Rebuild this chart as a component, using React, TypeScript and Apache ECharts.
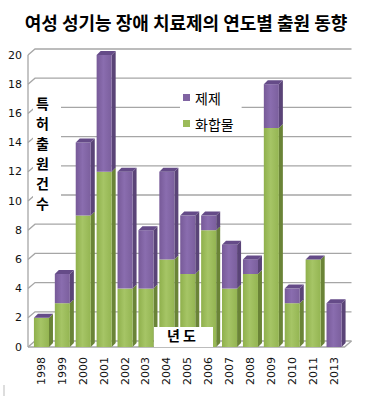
import React, { useEffect, useRef } from "react";
import * as echarts from "echarts";

const years = ["1998", "1999", "2000", "2001", "2002", "2003", "2004", "2005", "2006", "2007", "2008", "2009", "2010", "2011", "2013"];
const compound = [2, 3, 9, 12, 4, 4, 6, 5, 8, 4, 5, 15, 3, 6, 0];
const formulation = [0, 2, 5, 8, 8, 4, 6, 4, 1, 3, 1, 3, 1, 0, 3];
const yTickValues = [0, 2, 4, 6, 8, 10, 12, 14, 16, 18, 20];

const TITLE = "여성 성기능 장애 치료제의 연도별 출원 동향";
const Y_NAME = "특\n허\n출\n원\n건\n수";
const X_NAME = "년 도";

const KR = '"Noto Sans CJK KR", "Noto Sans", sans-serif';
const LAT = '"DejaVu Sans", Verdana, sans-serif';

const GREEN = "#9BBB59";
const PURPLE = "#8064A2";

const DX = 4;
const DY = 4;
const WDX = 7;
const WDY = 6;

function makeBarRender(kind: "green" | "purple") {
  return (params: any, api: any) => {
    const idx = api.value(0);
    const lo = api.value(1);
    const hi = api.value(2);
    const c0 = api.coord([idx, lo]);
    const c1 = api.coord([idx, hi]);
    const bw = api.size([1, 0])[0] * 0.72;
    const x = c0[0] - bw / 2;
    const yb = c0[1];
    const yt = c1[1];
    const children: any[] = [];
    const front =
      kind === "green"
        ? new echarts.graphic.LinearGradient(0, 0, 1, 0, [
            { offset: 0, color: "#8fb04c" },
            { offset: 0.45, color: "#a6c566" },
            { offset: 1, color: "#94b552" },
          ])
        : new echarts.graphic.LinearGradient(0, 0, 1, 0, [
            { offset: 0, color: "#775a98" },
            { offset: 0.45, color: "#8a6daf" },
            { offset: 1, color: "#7b5f9d" },
          ]);
    const side = kind === "green" ? "#6a8437" : "#5a4477";
    if (hi > lo) {
      children.push({
        type: "polygon",
        shape: { points: [[x + bw, yt], [x + bw + DX, yt - DY], [x + bw + DX, yb - DY], [x + bw, yb]] },
        style: { fill: side },
      });
      children.push({
        type: "rect",
        shape: { x, y: yt, width: bw, height: yb - yt },
        style: { fill: front },
      });
    }
    if (kind === "purple") {
      children.push({
        type: "polygon",
        shape: { points: [[x, yt], [x + DX, yt - DY], [x + bw + DX, yt - DY], [x + bw, yt]] },
        style: { fill: "#654b88" },
      });
    }
    return { type: "group", children };
  };
}

function wallRender(params: any, api: any) {
  const cs = params.coordSys;
  const v = api.value(1);
  const y = api.coord([0, v])[1];
  const x0 = cs.x - 3;
  const xr = cs.x + cs.width;
  const children: any[] = [
    {
      type: "polyline",
      shape: { points: [[x0, y], [x0 + WDX, y - WDY], [xr + WDX, y - WDY]] },
      style: { stroke: "#a6a6a6", lineWidth: 1.3, fill: "none" },
    },
  ];
  if (v === 0) {
    children.push({
      type: "polyline",
      shape: { points: [[x0, y], [xr, y], [xr + WDX, y - WDY]] },
      style: { stroke: "#a6a6a6", lineWidth: 1.3, fill: "none" },
    });
    children.push({
      type: "line",
      shape: { x1: x0, y1: y, x2: x0, y2: cs.y },
      style: { stroke: "#a6a6a6", lineWidth: 1.3 },
    });
  }
  return { type: "group", children };
}

export default function App() {
  const ref = useRef<HTMLDivElement>(null);
  useEffect(() => {
    if (!ref.current) return;
    const chart = echarts.init(ref.current, undefined, { renderer: "svg" });
    const greenData = years.map((_, i) => [i, 0, compound[i]]);
    const purpleData = years.map((_, i) => [i, compound[i], compound[i] + formulation[i]]);
    chart.setOption({
      animation: false,
      backgroundColor: "#ffffff",
      title: {
        text: TITLE,
        left: "center",
        top: 8,
        textStyle: { fontFamily: KR, fontSize: 18, fontWeight: "bold", color: "#000" },
      },
      legend: {
        data: ["제제", "화합물"],
        orient: "vertical",
        left: 180,
        top: 86,
        icon: "rect",
        itemWidth: 7,
        itemHeight: 7,
        itemGap: 9,
        padding: [3, 8, 3, 3],
        backgroundColor: "#ffffff",
        textStyle: { fontFamily: KR, fontSize: 14, color: "#000", lineHeight: 17 },
        z: 10,
      },
      grid: { left: 31, right: 27.5, top: 55, bottom: 49 },
      xAxis: {
        type: "category",
        data: years,
        axisLine: { show: false },
        axisTick: { show: false },
        axisLabel: { rotate: 90, margin: 10, fontFamily: LAT, fontSize: 11, color: "#111" },
      },
      yAxis: {
        type: "value",
        min: 0,
        max: 20,
        interval: 2,
        splitLine: { show: false },
        axisLine: { show: false },
        axisTick: { show: false },
        axisLabel: { margin: 9, fontFamily: LAT, fontSize: 11, color: "#111" },
      },
      series: [
        {
          type: "custom",
          name: "wall",
          renderItem: wallRender,
          data: yTickValues.map((v) => [0, v]),
          encode: { x: 0, y: 1 },
          z: 1,
          silent: true,
        },
        {
          type: "custom",
          name: "화합물",
          renderItem: makeBarRender("green"),
          data: greenData,
          encode: { x: 0, y: [1, 2] },
          itemStyle: { color: GREEN },
          z: 2,
        },
        {
          type: "custom",
          name: "제제",
          renderItem: makeBarRender("purple"),
          data: purpleData,
          encode: { x: 0, y: [1, 2] },
          itemStyle: { color: PURPLE },
          z: 3,
        },
      ],
      graphic: [
        {
          type: "rect",
          left: 33,
          top: 90,
          shape: { width: 28, height: 122 },
          style: { fill: "#ffffff" },
          z: 20,
        },
        {
          type: "text",
          left: 36,
          top: 93,
          style: {
            text: Y_NAME,
            fontFamily: KR,
            fontSize: 14,
            fontWeight: "bold",
            lineHeight: 20,
            fill: "#000",
          },
          z: 21,
        },
        {
          type: "rect",
          left: 154,
          top: 327,
          shape: { width: 59, height: 20 },
          style: { fill: "#ffffff" },
          z: 20,
        },
        {
          type: "text",
          left: 167,
          top: 328,
          style: { text: X_NAME, fontFamily: KR, fontSize: 14, fontWeight: "bold", fill: "#000" },
          z: 21,
        },
        {
          type: "line",
          shape: { x1: 4, y1: 385, x2: 4, y2: 396 },
          style: { stroke: "#bbbbbb", lineWidth: 1 },
        },
      ],
    });
    return () => chart.dispose();
  }, []);
  return (
    <div
      ref={ref}
      style={{ width: 372, height: 396, position: "absolute", left: 0, top: 0 }}
    />
  );
}
